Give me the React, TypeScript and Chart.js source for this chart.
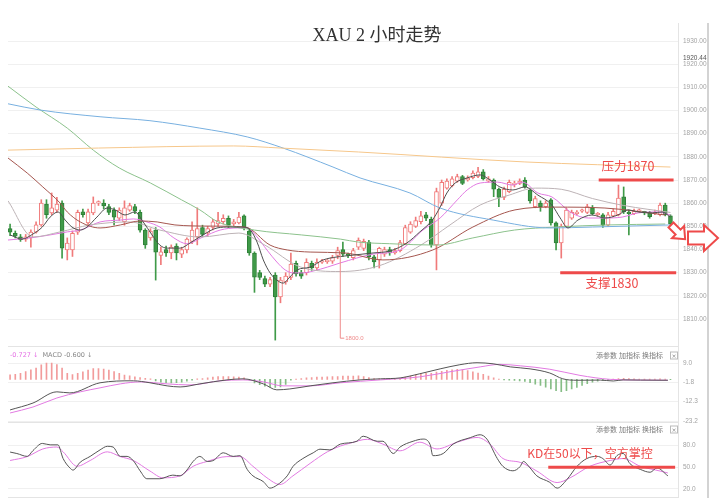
import React, { useEffect, useRef } from 'react';
import { Chart, registerables } from 'chart.js';

Chart.register(...registerables);

// ---------------- data ----------------
const OPEN = [
  1849.0, 1847.0, 1845.5, 1844.5, 1845.0, 1847.5, 1850.6, 1859.6, 1855.8, 1857.0,
  1860.0, 1839.8, 1839.8, 1847.5, 1856.3, 1851.5, 1855.8, 1860.0, 1860.0, 1858.5,
  1857.0, 1853.5, 1852.0, 1857.0, 1858.5, 1856.0, 1848.4, 1845.0, 1848.4, 1837.5,
  1840.0, 1838.5, 1841.5, 1838.0, 1839.8, 1843.5, 1845.5, 1849.5, 1847.0, 1849.5,
  1851.0, 1852.0, 1853.5, 1851.0, 1851.5, 1854.5, 1848.0, 1838.5, 1830.0, 1827.5,
  1825.0, 1829.0, 1819.5, 1826.0, 1828.0, 1834.0, 1830.0, 1830.0, 1834.0, 1832.0,
  1834.5, 1834.8, 1835.0, 1837.5, 1840.0, 1837.8, 1836.5, 1841.0, 1840.5, 1843.2,
  1836.8, 1835.5, 1838.0, 1840.0, 1838.5, 1839.5, 1842.5, 1847.5, 1850.0, 1852.0,
  1855.0, 1853.0, 1842.0, 1860.0, 1866.5, 1867.5, 1869.5, 1871.5, 1870.0, 1871.0,
  1871.5, 1873.5, 1869.5, 1870.0, 1866.0, 1862.5, 1865.0, 1868.0, 1868.5, 1870.0,
  1865.7, 1858.5, 1860.0, 1858.5, 1861.4, 1851.5, 1842.8, 1850.0, 1853.5, 1855.5,
  1856.5, 1856.0, 1858.0, 1855.0, 1855.0, 1850.5, 1854.5, 1855.0, 1862.7, 1856.0,
  1855.5, 1856.5, 1856.0, 1855.8, 1855.5, 1855.0, 1859.2, 1854.5,
];
const HIGH = [
  1851.0, 1848.0, 1846.5, 1846.5, 1848.5, 1852.0, 1861.5, 1861.5, 1864.4, 1862.5,
  1861.0, 1845.0, 1848.0, 1857.0, 1857.5, 1857.5, 1862.7, 1861.0, 1861.5, 1859.5,
  1858.0, 1858.0, 1861.0, 1860.0, 1859.5, 1857.0, 1849.0, 1849.0, 1849.5, 1841.0,
  1841.5, 1842.0, 1842.5, 1841.0, 1845.0, 1852.0, 1858.0, 1850.5, 1850.0, 1853.0,
  1856.0, 1855.0, 1854.5, 1853.0, 1856.0, 1855.0, 1849.0, 1839.0, 1831.0, 1828.5,
  1828.0, 1830.0, 1828.0, 1830.0, 1838.5, 1835.0, 1831.0, 1836.0, 1835.0, 1836.0,
  1835.8, 1835.7, 1837.5, 1841.0, 1843.2, 1838.5, 1840.5, 1845.0, 1844.5, 1844.0,
  1837.5, 1841.0, 1841.0, 1841.0, 1840.5, 1844.0, 1850.5, 1852.0, 1854.0, 1856.5,
  1856.0, 1854.0, 1866.5, 1870.0, 1870.5, 1871.5, 1872.5, 1872.0, 1871.8, 1874.0,
  1875.5, 1874.5, 1871.5, 1870.5, 1866.5, 1867.0, 1870.0, 1869.5, 1870.5, 1871.0,
  1866.5, 1863.0, 1861.0, 1861.0, 1862.0, 1852.0, 1851.0, 1858.0, 1857.0, 1856.8,
  1857.5, 1859.5, 1859.0, 1856.0, 1855.5, 1856.0, 1857.5, 1867.8, 1867.0, 1857.0,
  1857.5, 1857.5, 1856.5, 1856.5, 1857.0, 1860.0, 1860.0, 1855.0,
];
const LOW = [
  1846.0, 1845.0, 1843.5, 1843.5, 1841.0, 1847.0, 1850.0, 1853.5, 1855.0, 1856.0,
  1836.3, 1835.5, 1837.0, 1846.5, 1854.0, 1850.5, 1855.0, 1859.0, 1857.5, 1855.0,
  1850.6, 1852.5, 1850.5, 1856.5, 1855.5, 1847.5, 1840.5, 1844.0, 1826.8, 1833.5,
  1837.0, 1836.0, 1835.5, 1836.5, 1838.5, 1842.5, 1842.0, 1845.5, 1846.0, 1848.5,
  1850.0, 1851.0, 1849.5, 1850.0, 1851.0, 1848.5, 1837.5, 1821.5, 1827.0, 1824.0,
  1824.0, 1800.9, 1817.0, 1825.0, 1827.0, 1828.5, 1827.5, 1829.0, 1831.0, 1831.0,
  1834.0, 1834.0, 1834.0, 1836.0, 1837.0, 1836.5, 1835.5, 1840.0, 1839.5, 1835.5,
  1832.0, 1832.0, 1837.0, 1837.5, 1838.0, 1839.0, 1842.0, 1847.0, 1849.5, 1851.0,
  1852.5, 1841.0, 1831.2, 1859.0, 1866.0, 1867.0, 1869.0, 1868.0, 1869.5, 1870.5,
  1871.0, 1870.0, 1869.0, 1862.8, 1858.5, 1861.5, 1864.5, 1867.0, 1868.0, 1866.5,
  1860.0, 1858.0, 1856.5, 1858.0, 1850.5, 1839.8, 1836.3, 1849.5, 1853.0, 1855.0,
  1856.0, 1855.5, 1855.0, 1854.5, 1849.5, 1850.0, 1854.0, 1854.5, 1855.5, 1846.3,
  1855.0, 1856.0, 1855.0, 1853.5, 1855.0, 1854.5, 1854.5, 1850.0,
];
const CLOSE = [
  1847.5, 1845.8, 1844.2, 1845.5, 1847.5, 1850.6, 1860.0, 1855.0, 1858.0, 1859.6,
  1840.6, 1842.8, 1847.0, 1856.0, 1855.0, 1856.3, 1860.0, 1860.3, 1858.8, 1856.0,
  1854.0, 1857.0, 1858.0, 1859.0, 1856.5, 1848.4, 1842.0, 1848.0, 1838.9, 1839.0,
  1838.5, 1841.0, 1838.5, 1840.0, 1844.5, 1848.4, 1849.0, 1846.5, 1849.0, 1852.0,
  1852.5, 1853.5, 1850.5, 1852.0, 1854.0, 1849.5, 1838.5, 1828.1, 1828.0, 1825.0,
  1827.0, 1819.5, 1826.8, 1828.5, 1833.7, 1829.5, 1828.5, 1834.5, 1832.0, 1834.5,
  1835.0, 1835.0, 1836.5, 1839.5, 1838.0, 1837.5, 1839.5, 1844.0, 1843.5, 1836.8,
  1834.6, 1840.5, 1840.0, 1838.5, 1839.5, 1843.0, 1849.5, 1851.0, 1852.5, 1854.5,
  1853.5, 1842.0, 1865.0, 1869.0, 1869.5, 1870.5, 1871.5, 1868.5, 1870.8, 1873.0,
  1873.5, 1870.5, 1870.5, 1866.0, 1862.5, 1866.0, 1869.0, 1868.5, 1869.5, 1867.0,
  1861.0, 1862.0, 1858.5, 1860.0, 1851.5, 1842.8, 1850.0, 1857.0, 1856.0, 1856.0,
  1857.0, 1858.5, 1855.5, 1855.3, 1850.5, 1855.0, 1856.5, 1862.2, 1856.2, 1855.5,
  1856.5, 1856.7, 1855.8, 1854.2, 1856.0, 1859.2, 1855.0, 1851.0,
];

// moving averages, read as [candle index, price]
const MA_ORANGE: [number, number][] = [[-0.4, 1882.9], [17, 1883.8], [43, 1884.7], [52, 1883.8], [67, 1882.1], [99, 1877.8], [127, 1875.6]];
const MA_BLUE: [number, number][] = [[-0.4, 1902.9], [5.8, 1900.2], [17.3, 1897.3], [26.9, 1895.6], [36.5, 1892.4], [45.6, 1888.6], [52.5, 1883.8], [62.1, 1875.6], [67.3, 1870.9], [76.9, 1864.4], [82.7, 1857.9], [92.9, 1852.7], [103.8, 1849.3], [112, 1849.7], [118.7, 1850.1], [127, 1850.6]];
const MA_GREEN: [number, number][] = [[-0.4, 1910.5], [5, 1901.5], [11, 1892.4], [16, 1882.9], [21, 1875.2], [27, 1868.7], [33, 1861.4], [36.5, 1857.1], [40, 1851.9], [47, 1848.4], [56, 1846.3], [63.5, 1844.5], [67, 1843.2], [73, 1842.5], [82, 1841.9], [89, 1845], [97, 1848.4], [105, 1849.7], [115, 1850.6], [126, 1851]];
const MA_BROWN: [number, number][] = [[-0.4, 1879.5], [3.3, 1873], [6.3, 1867], [9.6, 1860.1], [11, 1856.2], [13.5, 1851.9], [17.3, 1849.3], [21.2, 1850.6], [25, 1852.3], [28.3, 1851.9], [31.7, 1850.6], [38.5, 1850.1], [45.2, 1849.7], [50, 1841.9], [53.3, 1839.8], [57.7, 1838.9], [64.4, 1838.5], [71.7, 1835.5], [81.3, 1839.8], [89, 1849.7], [97.1, 1857.1], [104.8, 1858.3], [114.4, 1857.9], [126, 1854.9]];
const MA_GRAY: [number, number][] = [[-0.4, 1861.0], [4.4, 1845.4], [9.6, 1847.6], [15.4, 1850.6], [23, 1851.9], [28.8, 1848.4], [36.5, 1845.4], [44, 1847.1], [49, 1841.9], [55.8, 1832.5], [63.5, 1830.5], [71, 1833], [79, 1841.9], [84.6, 1850.6], [90.4, 1859.2], [96, 1863.5], [101, 1866.5], [106, 1866], [112, 1862], [118, 1859], [127, 1856]];
const MA_PINK: [number, number][] = [[-0.4, 1844.1], [3.8, 1845], [7.7, 1846.3], [11, 1847.6], [13.5, 1848.4], [17.3, 1851.9], [21.2, 1852.7], [23.7, 1853.2], [26.3, 1851.9], [28.8, 1849.7], [31.5, 1845], [34, 1842.5], [37.1, 1845.4], [40.4, 1848.4], [43.7, 1849.3], [45.6, 1849.3], [47.5, 1845.4], [49.4, 1839.8], [51.3, 1834.6], [52.9, 1831.2], [54.4, 1829.9], [56.3, 1829.9], [58.3, 1830.7], [61, 1832.4], [63.5, 1834.2], [69.8, 1838], [75, 1839.8], [79.4, 1848.4], [82.7, 1853.6], [86, 1861.4], [87.9, 1865.7], [90.4, 1868.7], [93.7, 1869.1], [96.7, 1867.8], [98.5, 1869.1], [101.5, 1864.4], [104.2, 1862.7], [108, 1855.8], [111.2, 1853.6], [114.4, 1853.6], [117.7, 1854.0], [120.8, 1855.8], [124.6, 1856.2], [127, 1854.9]];
const MA_DARK: [number, number][] = [[0, 1846.3], [2.3, 1844.5], [4.4, 1846.7], [6.2, 1849.7], [7.7, 1854.0], [9.2, 1856.2], [10.6, 1852.7], [11.9, 1849.7], [13.5, 1848.4], [14.8, 1849.7], [16.7, 1854.0], [18.7, 1857.9], [20.2, 1857.1], [22.1, 1854.9], [24, 1856.2], [25.6, 1851.9], [27.3, 1846.3], [28.8, 1841.9], [30.2, 1840.6], [32.7, 1840.6], [34.6, 1842.8], [37.1, 1846.3], [39.8, 1849.3], [42.3, 1849.7], [44.6, 1849.7], [46.2, 1848.4], [47.5, 1843.2], [48.7, 1835.5], [50, 1829.9], [51.3, 1826.8], [52.5, 1825.5], [53.8, 1828.1], [55.2, 1831.2], [57.7, 1832.4], [60.2, 1835.5], [62.9, 1836.8], [64.4, 1837.2], [69.8, 1838.5], [73.1, 1839.4], [76.3, 1842.8], [78.8, 1847.6], [81.2, 1852.7], [82.7, 1858.3], [84, 1864.4], [85.6, 1868.7], [87.9, 1870.9], [90.4, 1872.2], [92.3, 1870.0], [94.2, 1867.0], [96.7, 1865.7], [99, 1867.0], [101.5, 1863.5], [104.2, 1859.2], [105.8, 1853.6], [107.3, 1849.3], [109.2, 1852.7], [111.9, 1854.9], [114.4, 1853.6], [116.9, 1854.9], [118.8, 1857.1], [120.8, 1856.2], [123.5, 1855.8], [125.4, 1856.2], [127, 1854.0]];

// MACD
const MACD_HIST = [
  2.5, 2.8, 3.3, 4.3, 5.3, 6.2, 8.0, 9.0, 9.0, 8.2,
  6.3, 3.3, 2.7, 3.3, 4.2, 5.1, 6.0, 6.0, 5.7, 5.1,
  4.3, 3.3, 2.3, 2.0, 1.4, 1.0, 0.6, 0.3, -0.8, -1.5,
  -1.8, -2.0, -1.8, -1.5, -1.0, -0.4, 0.3, 0.5, 0.8, 1.2,
  1.5, 1.6, 1.5, 1.4, 1.2, 0.8, -0.5, -2.0, -3.0, -3.8,
  -4.2, -4.4, -4.2, -2.8, -0.5, 0.2, 0.5, 0.8, 1.0, 1.2,
  1.2, 1.4, 1.5, 1.5, 1.8, 1.8, 1.8, 1.9, 1.6, 1.0,
  0.4, 0.3, 0.3, 0.2, 0.3, 0.5, 1.2, 1.8, 2.5, 3.0,
  3.3, 3.3, 4.0, 4.5, 5.0, 5.3, 5.5, 5.3, 4.8, 4.2,
  3.5, 2.8, 1.8, 0.8, 0.2, -0.3, -0.5, -0.6, -0.8, -1.2,
  -1.8, -2.6, -3.4, -4.3, -5.3, -6.3, -6.8, -6.2, -5.3, -4.4,
  -3.4, -2.4, -1.6, -1.0, -0.6, -0.3, 0.2, 0.5, 0.6, 0.4,
  0.3, 0.2, 0.2, 0.1, 0.2, 0.3, 0.2, -0.2,
];
const MACD_DIF: [number, number][] = [[0, -16.9], [4.4, -13.1], [9, -6.9], [11.5, -7.5], [17.3, -1.9], [23.7, -0.8], [26.9, -1.9], [30.2, -3.6], [32.7, -4.2], [36.5, -2.5], [41.7, -0.3], [44.8, 0.3], [48.7, -2.5], [51.3, -5.8], [53.8, -5.3], [57.7, -3.6], [62.1, -1.9], [67.3, -0.3], [71.2, 0.3], [75, 0.8], [78.8, 3.1], [82.7, 5.8], [86.5, 8.1], [89.8, 9.2], [92.9, 8.6], [96.2, 6.9], [100, 5.8], [103.8, 3.5], [106.3, 0.3], [109, -0.5], [113.5, -0.4], [116, -0.9], [117.9, -0.3], [121.2, -0.4], [126.5, -0.5]];
const MACD_DEA: [number, number][] = [[0, -18.6], [4.4, -15.3], [9, -10.3], [13.5, -6.9], [17.3, -4.7], [21.2, -2.5], [25, -1.4], [30.2, -2.5], [34.6, -3.1], [40.4, -0.8], [44.8, -0.3], [48.7, -1.4], [52.5, -3.6], [57.7, -3.6], [63.5, -1.9], [71.2, -0.3], [78.8, 1.4], [84.6, 4.2], [90.4, 6.9], [94.2, 8.3], [98.1, 7.5], [103.8, 5.6], [109.6, 2.2], [115.4, 0.0], [121.2, -0.4], [126.5, -0.5]];

// KD
const KD_K: [number, number][] = [[0, 71], [1.3, 69], [3.3, 65], [4.4, 73], [6.2, 83], [7.7, 81], [9.2, 81], [10.2, 62], [11.5, 49], [12.1, 46], [13.5, 57], [15.4, 65], [17.3, 74], [18.7, 79], [19.8, 78], [21.2, 65], [22.5, 65], [23.7, 59], [25, 45], [26.3, 34], [28.8, 34], [31.3, 39], [32.7, 38], [34, 46], [35.2, 58], [36.5, 65], [37.9, 58], [39, 59], [41, 70], [42.9, 65], [44.2, 66], [45.6, 47], [46.7, 38], [48.7, 30], [50, 21], [51.3, 25], [53.3, 38], [54.4, 51], [56.3, 62], [58.3, 70], [59.6, 75], [61.5, 74], [63.5, 82], [66.7, 86], [67.9, 93], [70.6, 86], [71.7, 86], [73.7, 69], [75, 78], [77.5, 86], [79.4, 89], [80.8, 81], [81.3, 66], [83.3, 69], [85.2, 82], [88.5, 91], [90.4, 95], [91.7, 89], [93.7, 62], [94.8, 51], [96.7, 45], [98.1, 51], [98.7, 58], [100, 49], [101.3, 38], [103.8, 29], [105.2, 21], [107.1, 33], [109, 51], [110.9, 62], [112.9, 65], [114, 62], [115.4, 53], [116.7, 66], [117.9, 69], [119.2, 55], [121.2, 47], [123.1, 43], [124.4, 49], [126.5, 38]];
const KD_D: [number, number][] = [[0, 59.3], [3.3, 64.7], [6.3, 75.3], [9, 78], [10.2, 71.3], [12.9, 51.3], [15.4, 59.3], [18.7, 71.3], [21.2, 64.7], [23.7, 59.3], [26.9, 44.7], [29.4, 35.3], [32.7, 38], [35.2, 51.3], [37.9, 58], [41.7, 64.7], [44.2, 64.7], [46.7, 51.3], [49.4, 35.3], [51.9, 26], [54.4, 38], [57.7, 55.3], [61, 71.3], [63.5, 79.3], [65.4, 83.3], [68.7, 88.7], [71.7, 82], [75, 72.7], [78.8, 84.7], [82.1, 75.3], [86, 84.7], [89.8, 91.3], [92.3, 82], [94.8, 62], [98.1, 56.7], [101.3, 44.7], [105.2, 28.7], [107.7, 35.3], [111.5, 51.3], [115.4, 59.3], [117.9, 62], [121.2, 51.3], [125, 44.7], [126.5, 42]];

// ticks & texts
const PRICE_TICKS = [1930, 1920, 1910, 1900, 1890, 1880, 1870, 1860, 1850, 1840, 1830, 1820, 1810];
const MACD_TICKS = [9.0, -1.8, -12.3, -23.2];
const KD_TICKS = [80, 50, 20];
const TITLE = 'XAU 2 小时走势';
const RESIST = 1870;
const RESIST_LABEL = '压力1870';
const SUPPORT = 1830;
const SUPPORT_LABEL = '支撑1830';
const KD_LEVEL = 50;
const KD_NOTE = 'KD在50以下，空方掌控';
const LAST_PRICE = '1920.44';
const LOW_MARK = 1800.0;
const MACD_HEAD_A = '-0.727 ↓';
const MACD_HEAD_B = 'MACD -0.600 ↓';
const TOOL_LABELS = ['添参数', '加指标', '换指标'];

// ---------------- layout / style ----------------
const W = 720;
const H = 503;
const PLOT_L = 8;
const AXIS_W = 42;
const X_MIN = -0.4;
const X_MAX = 128.45;
const RED = '#ee4a4a';
const UP = '#f07a7a';
const DOWN = '#3f9a48';
const CJK = "'Noto Sans CJK SC', 'Noto Sans', sans-serif";

function pts(a: [number, number][]) {
  return a.map(([x, y]) => ({ x, y }));
}

function lineDs(a: [number, number][], color: string, order: number, width = 1) {
  return {
    type: 'line',
    data: pts(a),
    borderColor: color,
    borderWidth: width,
    pointRadius: 0,
    fill: false,
    cubicInterpolationMode: 'monotone',
    order,
  } as any;
}

function baseOptions(top: number, bottom: number, yMin: number, yMax: number, ticks: number[], fmt: (v: number) => string) {
  return {
    responsive: false,
    animation: false,
    devicePixelRatio: 1,
    events: [],
    layout: { padding: { left: PLOT_L, right: 0, top, bottom: H - bottom } },
    plugins: { legend: { display: false }, tooltip: { enabled: false }, title: { display: false } },
    scales: {
      x: { type: 'linear', min: X_MIN, max: X_MAX, display: false, offset: false },
      y: {
        position: 'right',
        min: yMin,
        max: yMax,
        afterFit: (s: any) => { s.width = AXIS_W; },
        afterBuildTicks: (s: any) => { s.ticks = ticks.map((v) => ({ value: v })); },
        ticks: {
          callback: (v: any) => fmt(Number(v)),
          color: '#a3a3a3',
          font: { size: 6.5, family: "'Liberation Sans', Arial, sans-serif" },
          padding: 5,
        },
        grid: { color: '#f0f0f0', drawTicks: false },
        border: { display: false },
      },
    },
  } as any;
}

function drawToolbar(ctx: CanvasRenderingContext2D, y: number) {
  ctx.save();
  ctx.font = `7px ${CJK}`;
  ctx.fillStyle = '#7a7a7a';
  ctx.textBaseline = 'middle';
  ctx.textAlign = 'left';
  const xs = [596, 619, 642];
  TOOL_LABELS.forEach((t, i) => ctx.fillText(t, xs[i], y));
  ctx.strokeStyle = '#bbbbbb';
  ctx.lineWidth = 1;
  ctx.strokeRect(670.5, y - 3.5, 7, 7);
  ctx.font = "6px 'DejaVu Sans', sans-serif";
  ctx.fillStyle = '#888';
  ctx.textAlign = 'center';
  ctx.fillText('×', 674, y + 0.5);
  ctx.restore();
}

function drawArrow(ctx: CanvasRenderingContext2D, p: [number, number][]) {
  ctx.beginPath();
  p.forEach(([x, y], i) => (i ? ctx.lineTo(x, y) : ctx.moveTo(x, y)));
  ctx.closePath();
  ctx.fillStyle = '#ffffff';
  ctx.fill();
  ctx.strokeStyle = RED;
  ctx.lineWidth = 2;
  ctx.lineJoin = 'miter';
  ctx.stroke();
}

const mainDecor = {
  id: 'mainDecor',
  afterDraw(chart: any) {
    const ctx: CanvasRenderingContext2D = chart.ctx;
    const xs = chart.scales.x;
    const ys = chart.scales.y;
    const area = chart.chartArea;
    ctx.save();
    // panel separators
    ctx.strokeStyle = '#e4e4e4';
    ctx.lineWidth = 1;
    [346.5, 422.5, 497.5].forEach((y) => {
      ctx.beginPath(); ctx.moveTo(PLOT_L, y); ctx.lineTo(area.right, y); ctx.stroke();
    });
    // vertical frame lines
    ctx.beginPath(); ctx.moveTo(area.right + 0.5, 23); ctx.lineTo(area.right + 0.5, 498); ctx.stroke();
    ctx.strokeStyle = '#c4c4c4';
    ctx.lineWidth = 1.5;
    ctx.beginPath(); ctx.moveTo(708, 23); ctx.lineTo(708, 498); ctx.stroke();

    // title
    ctx.fillStyle = '#333333';
    ctx.font = `18px 'Liberation Serif', 'Noto Sans CJK SC', serif`;
    ctx.textAlign = 'center';
    ctx.textBaseline = 'middle';
    ctx.fillText(TITLE, 377, 36);

    // last price tag
    ctx.font = "6.5px 'Liberation Sans', Arial, sans-serif";
    ctx.fillStyle = '#555555';
    ctx.textAlign = 'left';
    ctx.fillText(LAST_PRICE, area.right + 5, 58);

    // low marker
    const lx = xs.getPixelForValue(63.5);
    const ly = ys.getPixelForValue(LOW_MARK);
    ctx.strokeStyle = '#ef8a8a';
    ctx.lineWidth = 1;
    ctx.beginPath();
    ctx.moveTo(lx, ys.getPixelForValue(1838));
    ctx.lineTo(lx, ly - 4);
    ctx.lineTo(lx + 4, ly - 4);
    ctx.stroke();
    ctx.fillStyle = '#ef8a8a';
    ctx.font = "6px 'Liberation Sans', Arial, sans-serif";
    ctx.fillText(LOW_MARK.toFixed(1), lx + 5, ly - 4);

    // resistance / support
    ctx.strokeStyle = RED;
    ctx.lineWidth = 3;
    const ry = ys.getPixelForValue(RESIST);
    ctx.beginPath(); ctx.moveTo(xs.getPixelForValue(113.2), ry); ctx.lineTo(xs.getPixelForValue(127.6), ry); ctx.stroke();
    const sy = ys.getPixelForValue(SUPPORT);
    ctx.beginPath(); ctx.moveTo(xs.getPixelForValue(105.8), sy); ctx.lineTo(xs.getPixelForValue(128.1), sy); ctx.stroke();
    ctx.fillStyle = RED;
    ctx.font = `12.5px ${CJK}`;
    ctx.textAlign = 'center';
    ctx.fillText(RESIST_LABEL, 628, ry - 14);
    ctx.fillText(SUPPORT_LABEL, 612, sy + 11);

    // arrows
    const c = Math.SQRT1_2;
    const local: [number, number][] = [[0, -3.5], [10, -3.5], [10, -8.5], [20, 0], [10, 8.5], [10, 3.5], [0, 3.5]];
    drawArrow(ctx, local.map(([x, y]) => [671 + x * c - y * c, 225 + x * c + y * c] as [number, number]));
    drawArrow(ctx, [[688, 231.5], [704, 231.5], [704, 225], [718, 238], [704, 251], [704, 244.5], [688, 244.5]]);
    ctx.restore();
  },
};

const macdDecor = {
  id: 'macdDecor',
  afterDraw(chart: any) {
    const ctx: CanvasRenderingContext2D = chart.ctx;
    ctx.save();
    ctx.font = "6.5px 'DejaVu Sans', sans-serif";
    ctx.textBaseline = 'middle';
    ctx.textAlign = 'left';
    ctx.fillStyle = '#e46fe4';
    ctx.fillText(MACD_HEAD_A, 10, 355);
    const w = ctx.measureText(MACD_HEAD_A).width;
    ctx.fillStyle = '#888888';
    ctx.fillText(MACD_HEAD_B, 10 + w + 4, 355);
    ctx.restore();
    drawToolbar(ctx, 355.5);
  },
};

const kdDecor = {
  id: 'kdDecor',
  afterDraw(chart: any) {
    const ctx: CanvasRenderingContext2D = chart.ctx;
    const xs = chart.scales.x;
    const ys = chart.scales.y;
    drawToolbar(ctx, 429.5);
    ctx.save();
    const y = ys.getPixelForValue(KD_LEVEL);
    ctx.strokeStyle = RED;
    ctx.lineWidth = 3;
    ctx.beginPath(); ctx.moveTo(xs.getPixelForValue(103.5), y); ctx.lineTo(xs.getPixelForValue(127.9), y); ctx.stroke();
    ctx.fillStyle = RED;
    ctx.font = `12px ${CJK}`;
    ctx.textAlign = 'center';
    ctx.textBaseline = 'middle';
    ctx.fillText(KD_NOTE, 590, 453);
    ctx.restore();
  },
};

function mainConfig() {
  const up = CLOSE.map((c, i) => c >= OPEN[i]);
  return {
    type: 'bar',
    data: {
      datasets: [
        lineDs(MA_ORANGE, '#f6c78b', 1),
        lineDs(MA_BLUE, '#78b0e0', 1),
        lineDs(MA_GREEN, '#8cc28c', 1),
        lineDs(MA_BROWN, '#a5564f', 1),
        lineDs(MA_GRAY, '#bdb3b6', 1),
        lineDs(MA_PINK, '#e27ae2', 1),
        lineDs(MA_DARK, '#4f4f4f', 0),
        {
          type: 'bar',
          data: HIGH.map((h, i) => ({ x: i, y: [LOW[i], h] })),
          backgroundColor: up.map((u) => (u ? UP : DOWN)),
          barThickness: 1,
          grouped: false,
          order: 11,
        },
        {
          type: 'bar',
          data: CLOSE.map((c, i) => ({ x: i, y: [OPEN[i], c] })),
          backgroundColor: up.map((u) => (u ? '#ffffff' : DOWN)),
          borderColor: up.map((u) => (u ? UP : '#2f8038')),
          borderWidth: 1,
          borderSkipped: false,
          barThickness: 4,
          minBarLength: 1.5,
          grouped: false,
          order: 10,
        },
      ],
    },
    options: baseOptions(25, 345, 1798.78, 1936.91, PRICE_TICKS, (v) => v.toFixed(2)),
    plugins: [mainDecor],
  } as any;
}

function macdConfig() {
  return {
    type: 'bar',
    data: {
      datasets: [
        lineDs(MACD_DIF, '#555555', 0),
        lineDs(MACD_DEA, '#e27ae2', 1),
        {
          type: 'bar',
          data: MACD_HIST.map((v, i) => ({ x: i, y: v })),
          backgroundColor: MACD_HIST.map((v) => (v >= 0 ? '#f29b9b' : '#86bd86')),
          barThickness: 1,
          grouped: false,
          order: 5,
        },
      ],
    },
    options: baseOptions(347, 421.3, -23.2, 17.9, MACD_TICKS, (v) => v.toFixed(1)),
    plugins: [macdDecor],
  } as any;
}

function kdConfig() {
  return {
    type: 'line',
    data: {
      datasets: [
        lineDs(KD_D, '#e27ae2', 1),
        lineDs(KD_K, '#555555', 0),
      ],
    },
    options: baseOptions(423, 497, 12.7, 111.3, KD_TICKS, (v) => v.toFixed(1)),
    plugins: [kdDecor],
  } as any;
}

export default function App() {
  const mainRef = useRef<HTMLCanvasElement>(null);
  const macdRef = useRef<HTMLCanvasElement>(null);
  const kdRef = useRef<HTMLCanvasElement>(null);

  useEffect(() => {
    const charts = [
      new Chart(mainRef.current as HTMLCanvasElement, mainConfig()),
      new Chart(macdRef.current as HTMLCanvasElement, macdConfig()),
      new Chart(kdRef.current as HTMLCanvasElement, kdConfig()),
    ];
    return () => charts.forEach((c) => c.destroy());
  }, []);

  const cs: React.CSSProperties = { position: 'absolute', left: 0, top: 0, width: W, height: H };
  return (
    <div style={{ position: 'fixed', left: 0, top: 0, width: W, height: H, background: '#ffffff', overflow: 'hidden' }}>
      <canvas ref={mainRef} width={W} height={H} style={cs} />
      <canvas ref={macdRef} width={W} height={H} style={cs} />
      <canvas ref={kdRef} width={W} height={H} style={cs} />
    </div>
  );
}
